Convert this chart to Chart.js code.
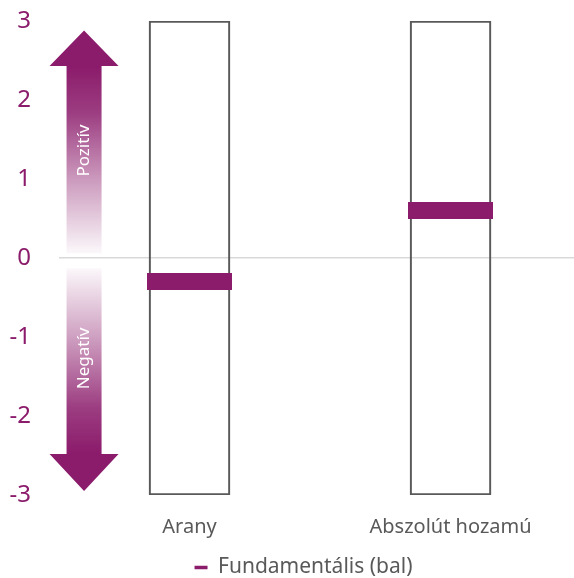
<!DOCTYPE html>
<html>
<head>
<meta charset="utf-8">
<script src="https://cdn.jsdelivr.net/npm/chart.js@4/dist/chart.umd.min.js"></script>
<style>
html,body{margin:0;padding:0;background:#fff;overflow:hidden;}
#wrap{width:574px;height:578px;}
</style>
</head>
<body>
<div id="wrap"><canvas id="c" width="574" height="578"></canvas></div>
<script>
// ---- data ----
const categories = ['Arany', 'Abszolút hozamú'];
const fundamental = [-0.3, 0.6];
const rangeLow = [-3, -3];
const rangeHigh = [3, 3];
const yTicks = [-3, -2, -1, 0, 1, 2, 3];
const arrowLabels = ['Pozitív', 'Negatív'];
const seriesName = 'Fundamentális (bal)';

const PURPLE = '#8B1B6B';
const FONT = '"Noto Sans", sans-serif';

const boxData = categories.map((c, i) => ({x: i, y: [rangeLow[i], rangeHigh[i]]}));
const markerData = categories.map((c, i) => ({x: i, y: fundamental[i]}));

// marker glyph (thick horizontal dash) used as point style
const markerGlyph = document.createElement('canvas');
markerGlyph.width = 85;
markerGlyph.height = 17;
(() => { const g = markerGlyph.getContext('2d'); g.fillStyle = PURPLE; g.fillRect(0, 0, 85, 17); })();

const arrowPlugin = {
  id: 'arrows',
  afterLayout(chart) {
    const lg = chart.legend;
    if (lg) { lg.right -= 26; lg.top += 10; lg.bottom += 10; }
  },
  beforeDatasetsDraw(chart) {
    const {ctx, scales} = chart;
    const xs = scales.x, ys = scales.y;
    const cx = xs.getPixelForValue(-0.404);
    const shaftHalf = 17.5, headHalf = 34.5;
    const upTip = ys.getPixelForValue(2.88);
    const upBase = ys.getPixelForValue(2.43);
    const upEnd = ys.getPixelForValue(0.06);
    let g = ctx.createLinearGradient(0, upBase, 0, upEnd);
    g.addColorStop(0, 'rgba(139,27,107,1)');
    g.addColorStop(0.25, 'rgba(139,27,107,0.85)');
    g.addColorStop(0.6, 'rgba(139,27,107,0.45)');
    g.addColorStop(1, 'rgba(139,27,107,0.03)');
    ctx.save();
    ctx.fillStyle = g;
    ctx.beginPath();
    ctx.moveTo(cx, upTip);
    ctx.lineTo(cx + headHalf, upBase);
    ctx.lineTo(cx + shaftHalf, upBase);
    ctx.lineTo(cx + shaftHalf, upEnd);
    ctx.lineTo(cx - shaftHalf, upEnd);
    ctx.lineTo(cx - shaftHalf, upBase);
    ctx.lineTo(cx - headHalf, upBase);
    ctx.closePath();
    ctx.fill();
    const dnStart = ys.getPixelForValue(-0.13);
    const dnBase = ys.getPixelForValue(-2.48);
    const dnTip = ys.getPixelForValue(-2.95);
    g = ctx.createLinearGradient(0, dnStart, 0, dnBase);
    g.addColorStop(0, 'rgba(139,27,107,0.03)');
    g.addColorStop(0.4, 'rgba(139,27,107,0.45)');
    g.addColorStop(0.75, 'rgba(139,27,107,0.85)');
    g.addColorStop(1, 'rgba(139,27,107,1)');
    ctx.fillStyle = g;
    ctx.beginPath();
    ctx.moveTo(cx - shaftHalf, dnStart);
    ctx.lineTo(cx + shaftHalf, dnStart);
    ctx.lineTo(cx + shaftHalf, dnBase);
    ctx.lineTo(cx + headHalf, dnBase);
    ctx.lineTo(cx, dnTip);
    ctx.lineTo(cx - headHalf, dnBase);
    ctx.lineTo(cx - shaftHalf, dnBase);
    ctx.closePath();
    ctx.fill();
    ctx.fillStyle = '#ffffff';
    ctx.font = '17px ' + FONT;
    ctx.textAlign = 'center';
    ctx.textBaseline = 'middle';
    [[arrowLabels[0], ys.getPixelForValue(1.36)], [arrowLabels[1], ys.getPixelForValue(-1.27)]].forEach(([t, y]) => {
      ctx.save();
      ctx.translate(cx, y);
      ctx.rotate(-Math.PI / 2);
      ctx.fillText(t, 0, 0);
      ctx.restore();
    });
    ctx.restore();
  }
};

new Chart(document.getElementById('c'), {
  data: {
    datasets: [
      {
        type: 'line',
        label: seriesName,
        data: markerData,
        showLine: false,
        pointStyle: markerGlyph,
        pointRadius: 1,
        pointHoverRadius: 1,
        pointBorderWidth: 0,
        borderWidth: 0,
        borderColor: PURPLE,
        backgroundColor: PURPLE,
        order: 0
      },
      {
        type: 'bar',
        label: 'range',
        data: boxData,
        barThickness: 81,
        backgroundColor: 'rgba(0,0,0,0)',
        borderColor: '#595959',
        borderWidth: 1.5,
        borderSkipped: false,
        order: 1
      }
    ]
  },
  plugins: [arrowPlugin],
  options: {
    responsive: false,
    animation: false,
    layout: {padding: {top: 21, left: 0, right: 0, bottom: 0}, autoPadding: false},
    scales: {
      x: {
        type: 'linear',
        offset: false,
        min: -0.5,
        max: 1.473,
        afterBuildTicks: s => { s.ticks = categories.map((c, i) => ({value: i})); },
        afterFit: s => { s.height = 52; },
        ticks: {
          callback: v => categories[v] ?? '',
          color: '#595959',
          font: {size: 20, family: FONT},
          padding: 20.5,
          maxRotation: 0,
          minRotation: 0,
          autoSkip: false
        },
        grid: {display: false, drawTicks: false, offset: false},
        border: {display: false}
      },
      y: {
        min: -3,
        max: 3,
        afterBuildTicks: s => { s.ticks = yTicks.map(v => ({value: v})); },
        afterFit: s => { s.width = 59; s.paddingTop = 0; s.paddingBottom = 0; },
        ticks: {
          color: PURPLE,
          font: {size: 24, family: FONT},
          padding: 28
        },
        grid: {
          drawTicks: false,
          color: c => c.tick && c.tick.value === 0 ? '#d9d9d9' : 'rgba(0,0,0,0)',
          lineWidth: 1.5
        },
        border: {display: false}
      }
    },
    plugins: {
      legend: {
        position: 'bottom',
        fullSize: false,
        labels: {
          filter: item => item.datasetIndex === 0,
          usePointStyle: true,
          pointStyleWidth: 13,
          boxHeight: 12,
          color: '#595959',
          font: {size: 21, family: FONT},
          padding: 0,
          generateLabels: chart => [{
            text: seriesName,
            fillStyle: PURPLE,
            strokeStyle: PURPLE,
            lineWidth: 3.5,
            pointStyle: 'line',
            datasetIndex: 0,
            fontColor: '#595959'
          }]
        }
      },
      tooltip: {enabled: false}
    }
  }
});
</script>
</body>
</html>
